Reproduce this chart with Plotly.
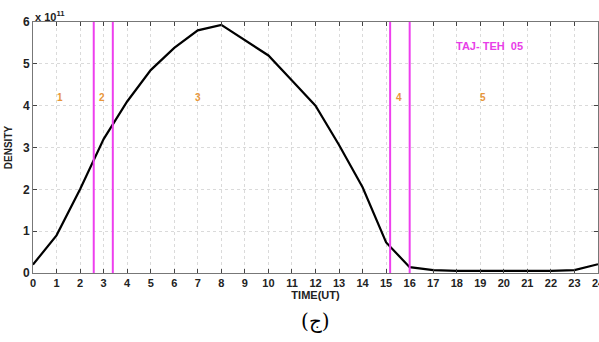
import plotly.graph_objects as go

# Hourly electron density (x 10^11) over one day
hours = list(range(25))
density = [0.2, 0.9, 2.0, 3.2, 4.1, 4.85, 5.38, 5.8, 5.93, 5.57, 5.2, 4.6, 4.0,
           3.06, 2.05, 0.73, 0.14, 0.07, 0.05, 0.05, 0.05, 0.05, 0.05, 0.07, 0.21]

# Phase boundaries (UT hours) and region labels
boundaries = [2.58, 3.39, 15.17, 16.0]
region_labels = ["1", "2", "3", "4", "5"]
region_x = [1.15, 2.95, 7.0, 15.55, 19.1]
region_y = 4.2

station = "TAJ- TEH  05"

fig = go.Figure()

fig.add_trace(go.Scatter(x=hours, y=density, mode="lines",
                         line=dict(color="black", width=2.2), showlegend=False))

for b in boundaries:
    fig.add_shape(type="line", x0=b, x1=b, y0=0, y1=6, xref="x", yref="y",
                  line=dict(color="#ee3fee", width=2))

for lab, x in zip(region_labels, region_x):
    fig.add_annotation(x=x, y=region_y, text="<b>" + lab + "</b>", showarrow=False,
                       font=dict(family="Liberation Sans", size=10, color="#e8963a"))

fig.add_annotation(x=19.4, y=5.43, text="<b>" + station + "</b>", showarrow=False,
                   font=dict(family="Liberation Sans", size=11, color="#e83ee8"))

fig.add_annotation(x=0, y=6, xref="x", yref="y", xanchor="left", yanchor="bottom",
                   text="<b>x 10<sup>11</sup></b>", showarrow=False, yshift=-3,
                   font=dict(family="Liberation Sans", size=11, color="#222"))

fig.add_annotation(x=0.5, y=0, xref="paper", yref="paper", yshift=-62,
                   text="(ج)", showarrow=False,
                   font=dict(family="DejaVu Serif", size=20, color="black"))

tickfont = dict(family="Liberation Sans", size=11, color="#222", weight="bold")

fig.update_layout(
    width=599, height=342,
    margin=dict(l=33, r=1, t=22, b=69),
    paper_bgcolor="white", plot_bgcolor="white",
    xaxis=dict(range=[0, 24], tickmode="linear", dtick=1, ticks="inside", ticklen=4,
               showline=True, linecolor="#777", mirror="ticks", linewidth=1,
               showgrid=True, gridcolor="#dadada", griddash="dot", zeroline=False,
               automargin=False, ticklabeloverflow="allow", tickfont=tickfont,
               title=dict(text="<b>TIME(UT)</b>", standoff=1,
                          font=dict(family="Liberation Sans", size=11, color="#222"))),
    yaxis=dict(range=[0, 6], tickmode="linear", dtick=1, ticks="inside", ticklen=4,
               showline=True, linecolor="#777", mirror="ticks", linewidth=1,
               showgrid=True, gridcolor="#dadada", griddash="dot", zeroline=False,
               automargin=False,
               tickfont=dict(family="Liberation Sans", size=12, color="#222", weight="bold"),
               title=dict(text="<b>DENSITY</b>", standoff=8,
                          font=dict(family="Liberation Sans", size=10, color="#222"))),
)

fig.write_html("out.html")
